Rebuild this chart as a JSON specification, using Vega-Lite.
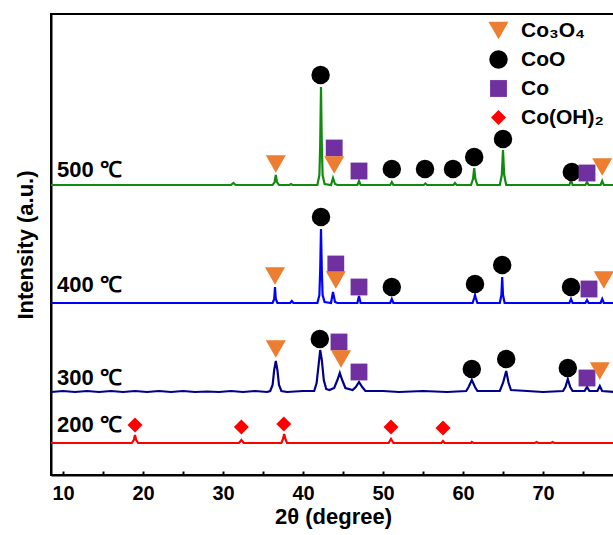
{
  "$schema": "https://vega.github.io/schema/vega-lite/v6.json",
  "width": 564,
  "height": 461,
  "autosize": "none",
  "padding": {"left": 51, "top": 14, "right": 0, "bottom": 60},
  "background": "white",
  "config": {
    "view": {"stroke": "black", "strokeWidth": 2},
    "font": "Liberation Sans",
    "legend": {"orient": "none", "legendX": 437, "legendY": 6, "labelFontSize": 21, "labelFontWeight": "bold", "labelColor": "black", "rowPadding": 7, "labelOffset": 12, "symbolStrokeWidth": 0, "padding": 0}
  },
  "datasets": {
    "curves": [
      {"s": "500", "x": 8.5, "y": 290}, {"s": "500", "x": 31.0, "y": 290}, {"s": "500", "x": 31.3, "y": 292}, {"s": "500", "x": 31.6, "y": 290},
      {"s": "500", "x": 36.2, "y": 290}, {"s": "500", "x": 36.45, "y": 293}, {"s": "500", "x": 36.6, "y": 300}, {"s": "500", "x": 36.75, "y": 293}, {"s": "500", "x": 37.0, "y": 290},
      {"s": "500", "x": 38.3, "y": 290}, {"s": "500", "x": 38.5, "y": 291}, {"s": "500", "x": 38.7, "y": 290},
      {"s": "500", "x": 41.8, "y": 290}, {"s": "500", "x": 42.05, "y": 300}, {"s": "500", "x": 42.15, "y": 330}, {"s": "500", "x": 42.25, "y": 388}, {"s": "500", "x": 42.35, "y": 330}, {"s": "500", "x": 42.45, "y": 300}, {"s": "500", "x": 42.7, "y": 291},
      {"s": "500", "x": 43.5, "y": 290}, {"s": "500", "x": 43.75, "y": 297}, {"s": "500", "x": 44.0, "y": 291}, {"s": "500", "x": 44.3, "y": 290},
      {"s": "500", "x": 46.8, "y": 290}, {"s": "500", "x": 47.0, "y": 294}, {"s": "500", "x": 47.2, "y": 290},
      {"s": "500", "x": 50.9, "y": 290}, {"s": "500", "x": 51.1, "y": 293}, {"s": "500", "x": 51.3, "y": 290},
      {"s": "500", "x": 55.1, "y": 290}, {"s": "500", "x": 55.3, "y": 291.5}, {"s": "500", "x": 55.5, "y": 290},
      {"s": "500", "x": 58.8, "y": 290}, {"s": "500", "x": 59.0, "y": 292}, {"s": "500", "x": 59.2, "y": 290},
      {"s": "500", "x": 61.0, "y": 290}, {"s": "500", "x": 61.25, "y": 296}, {"s": "500", "x": 61.4, "y": 307}, {"s": "500", "x": 61.55, "y": 296}, {"s": "500", "x": 61.8, "y": 290},
      {"s": "500", "x": 64.6, "y": 290}, {"s": "500", "x": 64.85, "y": 300}, {"s": "500", "x": 65.0, "y": 325}, {"s": "500", "x": 65.15, "y": 300}, {"s": "500", "x": 65.4, "y": 290},
      {"s": "500", "x": 73.3, "y": 290}, {"s": "500", "x": 73.5, "y": 295}, {"s": "500", "x": 73.7, "y": 290},
      {"s": "500", "x": 75.3, "y": 290}, {"s": "500", "x": 75.5, "y": 293}, {"s": "500", "x": 75.7, "y": 290},
      {"s": "500", "x": 77.2, "y": 290}, {"s": "500", "x": 77.4, "y": 294}, {"s": "500", "x": 77.6, "y": 290}, {"s": "500", "x": 79, "y": 290},

      {"s": "400", "x": 8.5, "y": 172}, {"s": "400", "x": 36.2, "y": 172}, {"s": "400", "x": 36.4, "y": 176}, {"s": "400", "x": 36.5, "y": 188}, {"s": "400", "x": 36.6, "y": 176}, {"s": "400", "x": 36.8, "y": 172},
      {"s": "400", "x": 38.4, "y": 172}, {"s": "400", "x": 38.6, "y": 174}, {"s": "400", "x": 38.8, "y": 172},
      {"s": "400", "x": 41.8, "y": 172}, {"s": "400", "x": 42.05, "y": 180}, {"s": "400", "x": 42.15, "y": 205}, {"s": "400", "x": 42.25, "y": 246}, {"s": "400", "x": 42.35, "y": 205}, {"s": "400", "x": 42.45, "y": 180}, {"s": "400", "x": 42.7, "y": 173},
      {"s": "400", "x": 43.5, "y": 172}, {"s": "400", "x": 43.75, "y": 183}, {"s": "400", "x": 44.0, "y": 173}, {"s": "400", "x": 44.3, "y": 172},
      {"s": "400", "x": 46.8, "y": 172}, {"s": "400", "x": 47.0, "y": 179}, {"s": "400", "x": 47.2, "y": 172},
      {"s": "400", "x": 50.9, "y": 172}, {"s": "400", "x": 51.1, "y": 176}, {"s": "400", "x": 51.3, "y": 172},
      {"s": "400", "x": 61.2, "y": 172}, {"s": "400", "x": 61.4, "y": 177}, {"s": "400", "x": 61.5, "y": 180}, {"s": "400", "x": 61.6, "y": 177}, {"s": "400", "x": 61.8, "y": 172},
      {"s": "400", "x": 64.6, "y": 172}, {"s": "400", "x": 64.8, "y": 180}, {"s": "400", "x": 64.9, "y": 198}, {"s": "400", "x": 65.0, "y": 180}, {"s": "400", "x": 65.2, "y": 172},
      {"s": "400", "x": 73.3, "y": 172}, {"s": "400", "x": 73.5, "y": 176}, {"s": "400", "x": 73.7, "y": 172},
      {"s": "400", "x": 75.3, "y": 172}, {"s": "400", "x": 75.5, "y": 175}, {"s": "400", "x": 75.7, "y": 172},
      {"s": "400", "x": 77.2, "y": 172}, {"s": "400", "x": 77.4, "y": 176}, {"s": "400", "x": 77.6, "y": 172}, {"s": "400", "x": 79, "y": 172},

      {"s": "300", "x": 8.5, "y": 83}, {"s": "300", "x": 10, "y": 84}, {"s": "300", "x": 11.5, "y": 83}, {"s": "300", "x": 13, "y": 84}, {"s": "300", "x": 14.5, "y": 83}, {"s": "300", "x": 16, "y": 84}, {"s": "300", "x": 17.5, "y": 83}, {"s": "300", "x": 19, "y": 84}, {"s": "300", "x": 20.5, "y": 83}, {"s": "300", "x": 22, "y": 84}, {"s": "300", "x": 23.5, "y": 83}, {"s": "300", "x": 25, "y": 84}, {"s": "300", "x": 26.5, "y": 83}, {"s": "300", "x": 28, "y": 83.5}, {"s": "300", "x": 29.5, "y": 83}, {"s": "300", "x": 31, "y": 84}, {"s": "300", "x": 32.5, "y": 83}, {"s": "300", "x": 34, "y": 84}, {"s": "300", "x": 35.5, "y": 83},
      {"s": "300", "x": 35.9, "y": 84}, {"s": "300", "x": 36.2, "y": 90}, {"s": "300", "x": 36.4, "y": 105}, {"s": "300", "x": 36.6, "y": 114}, {"s": "300", "x": 36.8, "y": 105}, {"s": "300", "x": 37.0, "y": 90}, {"s": "300", "x": 37.3, "y": 84},
      {"s": "300", "x": 38, "y": 83}, {"s": "300", "x": 40, "y": 84}, {"s": "300", "x": 41.4, "y": 84}, {"s": "300", "x": 41.7, "y": 92}, {"s": "300", "x": 41.95, "y": 110}, {"s": "300", "x": 42.15, "y": 125}, {"s": "300", "x": 42.35, "y": 115}, {"s": "300", "x": 42.6, "y": 95}, {"s": "300", "x": 42.9, "y": 86},
      {"s": "300", "x": 43.3, "y": 85}, {"s": "300", "x": 43.9, "y": 87}, {"s": "300", "x": 44.3, "y": 95}, {"s": "300", "x": 44.6, "y": 102}, {"s": "300", "x": 44.9, "y": 95}, {"s": "300", "x": 45.3, "y": 87},
      {"s": "300", "x": 46.2, "y": 85}, {"s": "300", "x": 46.6, "y": 88}, {"s": "300", "x": 47.0, "y": 93}, {"s": "300", "x": 47.4, "y": 88}, {"s": "300", "x": 47.8, "y": 84},
      {"s": "300", "x": 50, "y": 84}, {"s": "300", "x": 52, "y": 83}, {"s": "300", "x": 55, "y": 84}, {"s": "300", "x": 58, "y": 83},
      {"s": "300", "x": 60.4, "y": 84}, {"s": "300", "x": 60.7, "y": 88}, {"s": "300", "x": 61.1, "y": 95}, {"s": "300", "x": 61.5, "y": 88}, {"s": "300", "x": 61.8, "y": 84},
      {"s": "300", "x": 64.6, "y": 84}, {"s": "300", "x": 65.0, "y": 92}, {"s": "300", "x": 65.4, "y": 104}, {"s": "300", "x": 65.7, "y": 92}, {"s": "300", "x": 66.0, "y": 85},
      {"s": "300", "x": 68, "y": 84}, {"s": "300", "x": 70, "y": 83}, {"s": "300", "x": 72.5, "y": 84}, {"s": "300", "x": 72.8, "y": 88}, {"s": "300", "x": 73.1, "y": 96}, {"s": "300", "x": 73.4, "y": 88}, {"s": "300", "x": 73.7, "y": 84},
      {"s": "300", "x": 75.2, "y": 84}, {"s": "300", "x": 75.5, "y": 88}, {"s": "300", "x": 75.8, "y": 84}, {"s": "300", "x": 76.8, "y": 84}, {"s": "300", "x": 77.1, "y": 89}, {"s": "300", "x": 77.4, "y": 84}, {"s": "300", "x": 79, "y": 83},

      {"s": "200", "x": 8.5, "y": 32}, {"s": "200", "x": 18.6, "y": 32}, {"s": "200", "x": 18.85, "y": 35}, {"s": "200", "x": 19.0, "y": 40}, {"s": "200", "x": 19.15, "y": 35}, {"s": "200", "x": 19.4, "y": 32},
      {"s": "200", "x": 32.0, "y": 32}, {"s": "200", "x": 32.3, "y": 35}, {"s": "200", "x": 32.6, "y": 32},
      {"s": "200", "x": 37.3, "y": 32}, {"s": "200", "x": 37.5, "y": 36}, {"s": "200", "x": 37.65, "y": 41}, {"s": "200", "x": 37.8, "y": 36}, {"s": "200", "x": 38.0, "y": 32},
      {"s": "200", "x": 50.7, "y": 32}, {"s": "200", "x": 51.0, "y": 36}, {"s": "200", "x": 51.3, "y": 32},
      {"s": "200", "x": 57.3, "y": 32}, {"s": "200", "x": 57.5, "y": 34}, {"s": "200", "x": 57.7, "y": 32},
      {"s": "200", "x": 61.0, "y": 32}, {"s": "200", "x": 61.1, "y": 33}, {"s": "200", "x": 61.3, "y": 32},
      {"s": "200", "x": 69.0, "y": 32}, {"s": "200", "x": 69.2, "y": 33}, {"s": "200", "x": 69.4, "y": 32},
      {"s": "200", "x": 71.0, "y": 32}, {"s": "200", "x": 71.2, "y": 33}, {"s": "200", "x": 71.4, "y": 32}, {"s": "200", "x": 79, "y": 32}
    ],
    "markers": [
      {"phase": "Co₃O₄", "x": 36.6, "y": 311}, {"phase": "CoO", "x": 42.2, "y": 400}, {"phase": "Co", "x": 43.9, "y": 327}, {"phase": "Co₃O₄", "x": 43.9, "y": 310},
      {"phase": "Co", "x": 47.0, "y": 304}, {"phase": "CoO", "x": 51.1, "y": 306}, {"phase": "CoO", "x": 55.25, "y": 306}, {"phase": "CoO", "x": 58.75, "y": 306},
      {"phase": "CoO", "x": 61.4, "y": 318}, {"phase": "CoO", "x": 65.0, "y": 336}, {"phase": "CoO", "x": 73.6, "y": 303}, {"phase": "Co", "x": 75.5, "y": 302}, {"phase": "Co₃O₄", "x": 77.4, "y": 308},

      {"phase": "Co₃O₄", "x": 36.5, "y": 199}, {"phase": "CoO", "x": 42.25, "y": 258}, {"phase": "Co", "x": 44.1, "y": 211}, {"phase": "Co₃O₄", "x": 44.1, "y": 195},
      {"phase": "Co", "x": 47.0, "y": 188}, {"phase": "CoO", "x": 51.1, "y": 188}, {"phase": "CoO", "x": 61.5, "y": 191}, {"phase": "CoO", "x": 64.9, "y": 210},
      {"phase": "CoO", "x": 73.5, "y": 188}, {"phase": "Co", "x": 75.75, "y": 186}, {"phase": "Co₃O₄", "x": 77.6, "y": 195},

      {"phase": "Co₃O₄", "x": 36.6, "y": 126}, {"phase": "CoO", "x": 42.1, "y": 136}, {"phase": "Co", "x": 44.5, "y": 133}, {"phase": "Co₃O₄", "x": 44.75, "y": 116},
      {"phase": "Co", "x": 47.0, "y": 103}, {"phase": "CoO", "x": 61.1, "y": 106}, {"phase": "CoO", "x": 65.4, "y": 116}, {"phase": "CoO", "x": 73.1, "y": 107},
      {"phase": "Co", "x": 75.5, "y": 97}, {"phase": "Co₃O₄", "x": 77.1, "y": 104},

      {"phase": "Co(OH)₂", "x": 19.0, "y": 50}, {"phase": "Co(OH)₂", "x": 32.3, "y": 48}, {"phase": "Co(OH)₂", "x": 37.6, "y": 51}, {"phase": "Co(OH)₂", "x": 51.0, "y": 48}, {"phase": "Co(OH)₂", "x": 57.5, "y": 47}
    ],
    "labels": [
      {"t": "500 ℃", "x": 9.25, "y": 305},
      {"t": "400 ℃", "x": 9.25, "y": 190},
      {"t": "300 ℃", "x": 9.25, "y": 97},
      {"t": "200 ℃", "x": 9.25, "y": 50}
    ]
  },
  "layer": [
    {
      "data": {"name": "curves"},
      "mark": {"type": "line", "strokeWidth": 2.2, "clip": true},
      "encoding": {
        "x": {"field": "x", "type": "quantitative", "scale": {"domain": [8.5, 79], "nice": false, "zero": false},
          "axis": {"values": [10, 15, 20, 25, 30, 35, 40, 45, 50, 55, 60, 65, 70, 75], "labelExpr": "datum.value % 10 == 0 ? datum.label : ''",
            "tickSize": -4, "tickColor": "black", "tickWidth": 2, "domainColor": "black", "domainWidth": 2, "grid": false,
            "labelFontSize": 20, "labelFontWeight": "bold", "labelColor": "black", "labelPadding": 12, "labelFlush": false,
            "title": "2θ  (degree)", "titleFontSize": 22, "titleFontWeight": "bold", "titleColor": "black", "titlePadding": 3}},
        "y": {"field": "y", "type": "quantitative", "scale": {"domain": [0, 461], "nice": false},
          "axis": {"ticks": false, "labels": false, "grid": false, "domainColor": "black", "domainWidth": 2,
            "title": "Intensity (a.u.)", "titleFontSize": 22, "titleFontWeight": "bold", "titleColor": "black", "titlePadding": 14}},
        "stroke": {"field": "s", "type": "nominal", "scale": {"domain": ["500", "400", "300", "200"], "range": ["#108a10", "#0000ff", "#00008b", "#ff0000"]}, "legend": null}
      }
    },
    {
      "data": {"name": "markers"},
      "mark": {"type": "point", "filled": true, "opacity": 1, "strokeWidth": 0},
      "encoding": {
        "x": {"field": "x", "type": "quantitative"},
        "y": {"field": "y", "type": "quantitative"},
        "fill": {"field": "phase", "type": "nominal", "scale": {"domain": ["Co₃O₄", "CoO", "Co", "Co(OH)₂"], "range": ["#ED7D31", "#000000", "#7030A0", "#FF0000"]}, "legend": {"title": null}},
        "shape": {"field": "phase", "type": "nominal", "scale": {"domain": ["Co₃O₄", "CoO", "Co", "Co(OH)₂"], "range": ["triangle-down", "circle", "square", "diamond"]}, "legend": {"title": null}},
        "size": {"field": "phase", "type": "nominal", "scale": {"domain": ["Co₃O₄", "CoO", "Co", "Co(OH)₂"], "range": [400, 225, 165, 340]}, "legend": {"title": null}}
      }
    },
    {
      "data": {"name": "labels"},
      "mark": {"type": "text", "align": "left", "baseline": "middle", "fontSize": 22, "fontWeight": "bold", "color": "black"},
      "encoding": {
        "x": {"field": "x", "type": "quantitative"},
        "y": {"field": "y", "type": "quantitative"},
        "text": {"field": "t"}
      }
    }
  ]
}
